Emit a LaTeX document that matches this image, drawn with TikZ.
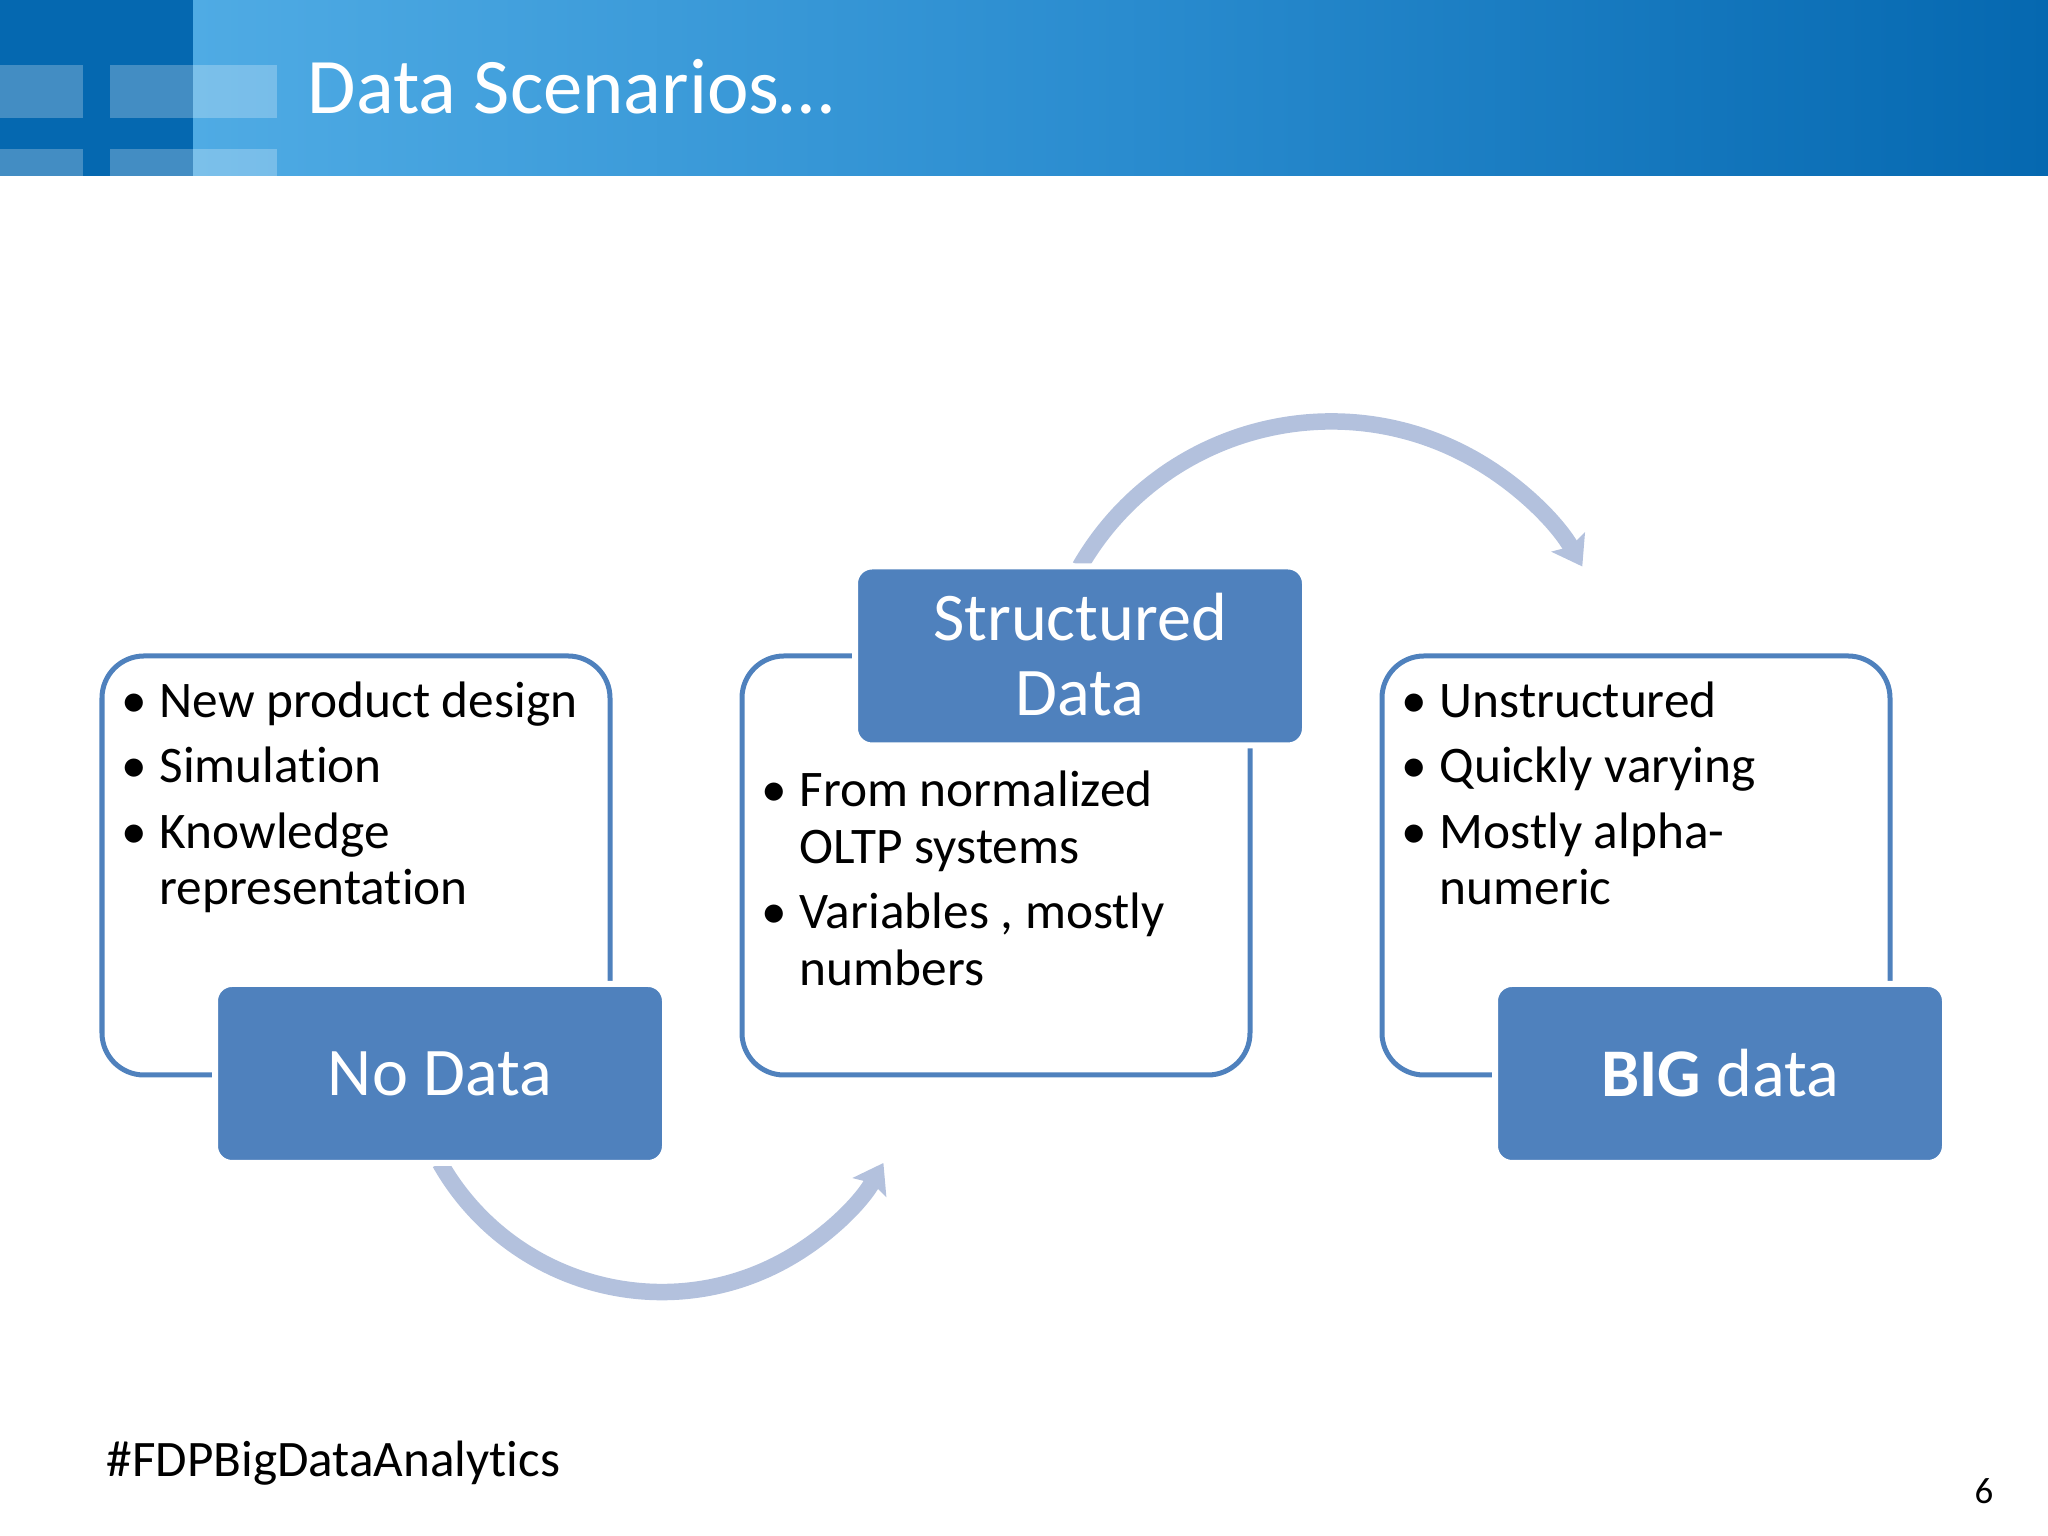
\documentclass[tikz,border=0pt]{standalone}
\usepackage{fontspec}
\setmainfont{Carlito}[Ligatures=NoCommon]
\usetikzlibrary{arrows.meta,backgrounds}

\definecolor{bluefill}{HTML}{4F81BD}
\definecolor{flowblue}{HTML}{B3C1DD}
\definecolor{bannerdark}{HTML}{0568B0}
\definecolor{bannerlight}{HTML}{4FABE4}
\definecolor{bannermid}{HTML}{2A8CCF}

\newcommand{\bul}{\makebox[0.38cm][l]{•}}
\newcommand{\cont}{\hspace*{0.38cm}}

\tikzset{
    framebox/.style={draw=bluefill, line width=0.05cm, rounded corners=0.42cm, minimum width=5.08cm, minimum height=4.19cm},
    titlebox/.style={fill=bluefill, draw=white, line width=0.06cm, rounded corners=0.17cm, outer sep=0pt, inner sep=0pt,
        minimum width=4.5cm, minimum height=1.79cm, text=white, align=center, font=\fontsize{19.4}{21.3}\selectfont},
    listtext/.style={anchor=north west, inner sep=0pt, align=left, font=\fontsize{14.6}{16.2}\selectfont},
    flow/.style={flowblue, line width=0.165cm, -{Stealth[length=0.28cm, width=0.38cm, inset=0.05cm]}}
}

\begin{document}
\begin{tikzpicture}
    \useasboundingbox (0,0) rectangle (20.48,15.36);

    % Banner
    \shade[left color=bannerlight, right color=bannerdark, middle color=bannermid] (1.93,13.6) rectangle (20.48,15.36);
    \fill[bannerdark] (0,13.6) rectangle (1.93,15.36);
    \foreach \x/\w in {0/0.83,1.1/1.67} {
        \fill[white, opacity=0.25] (\x,13.6) rectangle (\x+\w,13.87);
        \fill[white, opacity=0.25] (\x,14.18) rectangle (\x+\w,14.71);
    }
    \node[anchor=west, inner sep=0pt, text=white, font=\fontsize{22.4}{26}\selectfont] (title) at (3.07,14.49) {Data Scenarios…};

    % Frames
    \node[framebox] (nodataframe) at (3.56,6.705) {};
    \node[framebox] (structframe) at (9.96,6.705) {};
    \node[framebox] (bigframe) at (16.36,6.705) {};

    % Title boxes
    \node[titlebox] (nodata) at (4.40,4.625) {No Data};
    \node[titlebox, text depth=0.03cm] (struct) at (10.80,8.80) {Structured\\Data};
    \node[titlebox] (bigdata) at (17.20,4.625) {\textbf{BIG} data};

    % Lists
    \node[listtext] (nodatalist) at (1.21,8.55) {\bul New product design\\[2.4pt]\bul Simulation\\[2.4pt]\bul Knowledge\\\cont representation};
    \node[listtext] (structlist) at (7.61,7.66) {\bul From normalized\\\cont OLTP systems\\[2.4pt]\bul Variables , mostly\\\cont numbers};
    \node[listtext] (biglist) at (14.01,8.55) {\bul Unstructured\\[2.4pt]\bul Quickly varying\\[2.4pt]\bul Mostly alpha-\\\cont numeric};

    % Footer
    \node[anchor=west, inner sep=0pt, font=\fontsize{14.55}{18}\selectfont] (hashtag) at (1.06,0.73) {\#FDPBigDataAnalytics};
    \node[inner sep=0pt, font=\fontsize{10.5}{12}\selectfont] (pagenum) at (19.84,0.45) {6};

    % Arrows
    \begin{scope}[on background layer]
        \draw[flow] (nodata.south) arc[start angle=209.6, end angle=330.4, radius=2.55];
        \draw[flow] (struct.north) arc[start angle=150, end angle=30, radius=2.90];
    \end{scope}
\end{tikzpicture}
\end{document}
